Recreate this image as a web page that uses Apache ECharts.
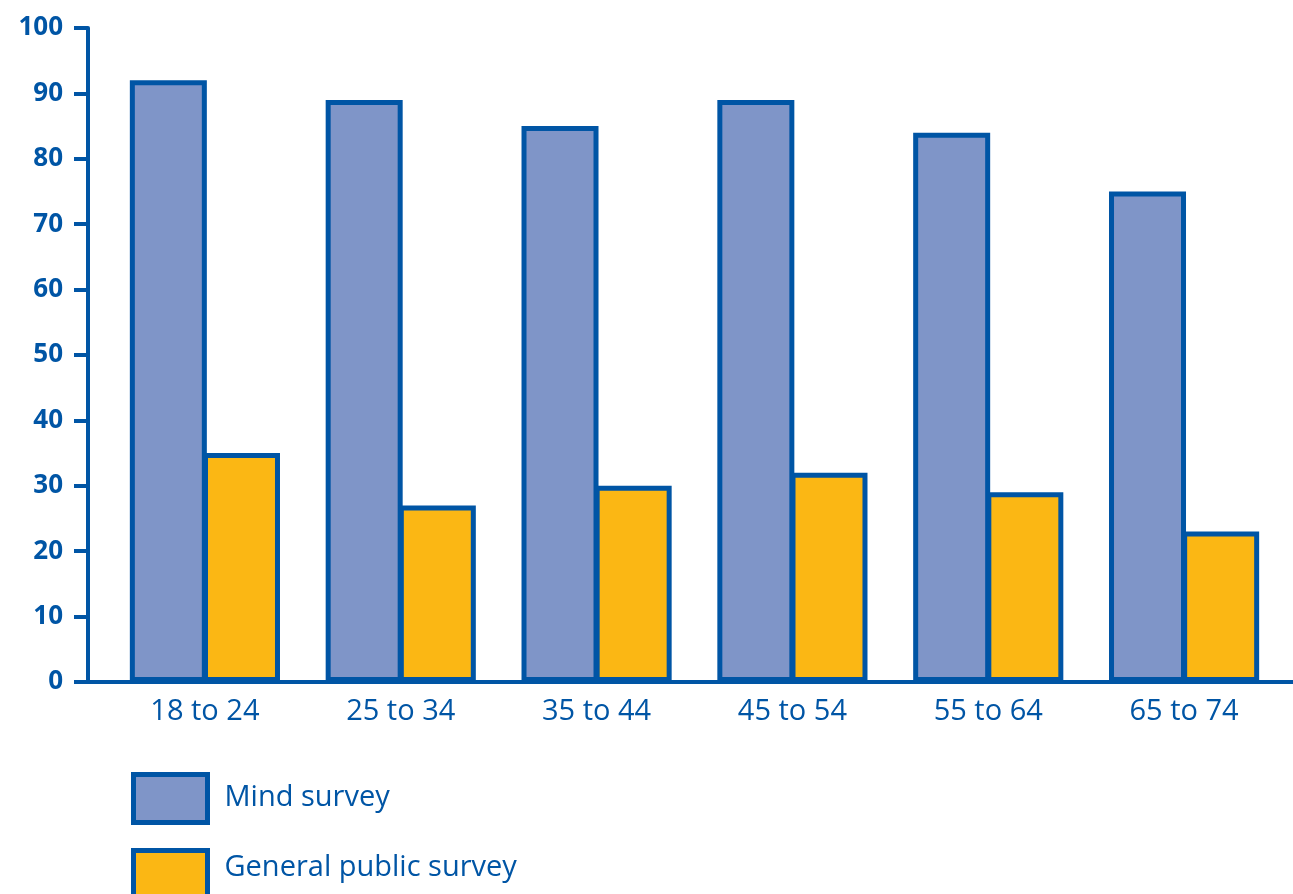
<!DOCTYPE html>
<html>
<head>
<meta charset="utf-8">
<script src="https://cdn.jsdelivr.net/npm/echarts@6/dist/echarts.min.js"></script>
<style>
  html, body { margin: 0; padding: 0; background: #fff; }
  #container { width: 1293px; height: 894px; }
</style>
</head>
<body>
<div id="container"></div>
<script>
// age groups and survey percentages
let ageGroups = ['18 to 24', '25 to 34', '35 to 44', '45 to 54', '55 to 64', '65 to 74'];
let mindSurvey = [92, 89, 85, 89, 84, 75];
let publicSurvey = [35, 27, 30, 32, 29, 23];
let seriesNames = ['Mind survey', 'General public survey'];

let blue = '#0055a5';
let font = '"Open Sans", "Noto Sans", sans-serif';

let dom = document.getElementById('container');
let myChart = echarts.init(dom);

let gridLeft = 107, gridRight = 11, gridTop = 28, gridBottom = 212;
let yAxisX = 88;

let barStyle = function (color) {
    return {
        color: color,
        borderColor: blue,
        borderWidth: 5
    };
};

// one legend per row, stacked under the chart
let legendRow = function (name, top, lift) {
    return {
        orient: 'vertical',
        left: 131,
        top: top,
        padding: 0,
        itemWidth: 74,
        itemHeight: 48,
        icon: 'rect',
        itemStyle: { borderColor: blue, borderWidth: 5 },
        formatter: '{t|{name}}',
        textStyle: {
            color: blue,
            fontFamily: font,
            fontSize: 29,
            rich: {
                t: {
                    color: blue,
                    fontFamily: font,
                    fontSize: 29,
                    padding: [0, 0, lift, 12]
                }
            }
        },
        data: [name]
    };
};

option = {
    animation: false,
    backgroundColor: '#fff',
    grid: {
        left: gridLeft,
        right: gridRight,
        top: gridTop,
        bottom: gridBottom
    },
    legend: [
        legendRow(seriesNames[0], 772, 2),
        legendRow(seriesNames[1], 848, 14)
    ],
    xAxis: {
        type: 'category',
        data: ageGroups,
        axisLine: { show: false },
        axisTick: { show: false },
        axisLabel: {
            color: blue,
            fontFamily: font,
            fontSize: 29,
            margin: 15
        }
    },
    yAxis: {
        type: 'value',
        min: 0,
        max: 100,
        interval: 10,
        offset: gridLeft - yAxisX,
        splitLine: { show: false },
        axisLine: {
            show: true,
            lineStyle: { color: blue, width: 4 }
        },
        axisTick: {
            show: true,
            length: 14,
            lineStyle: { color: blue, width: 4 }
        },
        axisLabel: {
            color: blue,
            fontFamily: font,
            fontWeight: 'bold',
            fontSize: 26,
            margin: 25
        }
    },
    series: [
        {
            name: seriesNames[0],
            type: 'bar',
            barWidth: 77,
            barGap: '-5%',
            itemStyle: barStyle('#7f95c8'),
            data: mindSurvey
        },
        {
            name: seriesNames[1],
            type: 'bar',
            barWidth: 77,
            itemStyle: barStyle('#fbb714'),
            data: publicSurvey
        }
    ]
};

myChart.setOption(option, true);

// x axis line runs from the y axis to the right edge of the picture
let y0 = myChart.convertToPixel({ yAxisIndex: 0 }, 0);
myChart.setOption({
    graphic: [{
        type: 'line',
        z: 10,
        shape: { x1: yAxisX - 2, y1: y0, x2: 1293, y2: y0 },
        style: { stroke: blue, lineWidth: 4 }
    }]
});
</script>
</body>
</html>
